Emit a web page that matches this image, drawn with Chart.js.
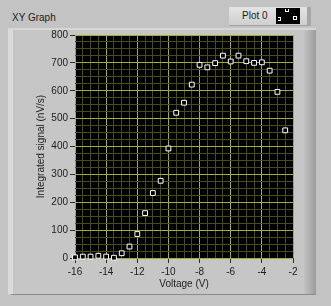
<!DOCTYPE html>
<html>
<head>
<meta charset="utf-8">
<script src="https://cdn.jsdelivr.net/npm/chart.js@4"></script>
<style>
  html, body { margin: 0; padding: 0; background: #c3c3c3; }
  #wrap { position: relative; width: 331px; height: 306px; overflow: hidden; font-family: "Liberation Sans", Arial, sans-serif; color: #1c1c1c; }
  #panel { position: absolute; left: 8px; top: 28px; width: 308px; height: 267px; background: #c6c6c6;
           border-top: 2px solid #d6d6d6; border-left: 5px solid #dadada; border-bottom: 1px solid #8c8c8c; box-sizing: border-box; }
  #shade { position: absolute; right: 0; top: 0; bottom: 0; width: 12px; background: linear-gradient(to right, #c2c2c2, #9c9c9c); }
  #name { position: absolute; left: 12px; top: 12px; font-size: 10px; }
  #legend { position: absolute; left: 229px; top: 7px; width: 82px; height: 19px; box-sizing: border-box;
            background: linear-gradient(to bottom, #e4e4e4, #cfcfcf); border-right: 4px solid #a6a6a6; border-bottom: 1px solid #a0a0a0; }
  #legend span { position: absolute; left: 13px; top: 3px; font-size: 10px; }
  #swatch { position: absolute; left: 47px; top: 1px; width: 24px; height: 16px; background: #000; }
  #swatch i { position: absolute; border: 1px solid #fff; box-sizing: border-box; }
  canvas { position: absolute; left: 0; top: 0; }
</style>
</head>
<body>
<div id="wrap">
  <div id="panel"><div id="shade"></div></div>
  <div id="name">XY Graph</div>
  <div id="legend"><span>Plot 0</span>
    <div id="swatch"><i style="left:9px;top:1px;width:4px;height:3px;border-top:none"></i><i style="left:2px;top:9px;width:3px;height:4px;border-left:none"></i><i style="left:17px;top:8px;width:4px;height:4px"></i></div>
  </div>
  <canvas id="chart" width="331" height="306"></canvas>
</div>
<script>
// values
const voltage = [-16, -15.5, -15, -14.5, -14, -13.5, -13, -12.5, -12, -11.5, -11, -10.5, -10, -9.5,
                 -9, -8.5, -8, -7.5, -7, -6.5, -6, -5.5, -5, -4.5, -4, -3.5, -3, -2.5];
const signal = [2.5, 5, 5, 8, 5, 1, 17, 41, 86, 161, 233, 277, 393, 521,
                557, 622, 693, 684, 699, 726, 705, 726, 706, 700, 702, 672, 596, 458];
const xTickLabels = [-16, -14, -12, -10, -8, -6, -4, -2];
const yTickLabels = [0, 100, 200, 300, 400, 500, 600, 700, 800];

const majorGrid = "rgb(165,172,58)";
const minorGrid = "rgb(74,76,24)";
const font = { family: "'Liberation Sans', Arial, sans-serif", size: 10 };

// black plot area
const plotBackground = {
  id: "plotBackground",
  beforeDraw(chart) {
    const { ctx, chartArea } = chart;
    ctx.save();
    ctx.fillStyle = "#000";
    ctx.fillRect(chartArea.left, chartArea.top, chartArea.right - chartArea.left, chartArea.bottom - chartArea.top);
    ctx.restore();
  },
};

function gridOptions(labels) {
  return {
    color: (c) => (c.tick && labels.includes(c.tick.value) ? majorGrid : minorGrid),
    tickColor: (c) => (c.tick && labels.includes(c.tick.value) ? "#2a2a2a" : "rgba(0,0,0,0)"),
    tickLength: 5,
    lineWidth: 1,
  };
}

new Chart(document.getElementById("chart"), {
  type: "scatter",
  data: {
    datasets: [
      {
        label: "Plot 0",
        data: voltage.map((v, i) => ({ x: v, y: signal[i] })),
        pointStyle: "rect",
        pointRadius: 3.4,
        backgroundColor: "#000",
        borderColor: "#fff",
        borderWidth: 1,
        showLine: false,
        clip: false,
      },
    ],
  },
  options: {
    responsive: false,
    animation: false,
    devicePixelRatio: 1,
    layout: { padding: { left: 31, top: 35, right: 38, bottom: 12 } },
    plugins: { legend: { display: false }, tooltip: { enabled: false } },
    scales: {
      x: {
        type: "linear",
        min: -16,
        max: -2,
        grid: gridOptions(xTickLabels),
        border: { display: false },
        ticks: {
          stepSize: 0.5,
          autoSkip: false,
          maxRotation: 0,
          padding: 3,
          color: "#1c1c1c",
          font: font,
          callback: (v) => (xTickLabels.includes(v) ? String(v) : ""),
        },
        title: { display: true, text: "Voltage (V)", color: "#1c1c1c", font: font, padding: { top: 4, bottom: 4 } },
        afterFit: (s) => { s.height = 36; },
      },
      y: {
        type: "linear",
        min: 0,
        max: 800,
        grid: gridOptions(yTickLabels),
        border: { display: false },
        ticks: {
          stepSize: 25,
          autoSkip: false,
          padding: 2,
          color: "#1c1c1c",
          font: font,
          callback: (v) => (yTickLabels.includes(v) ? String(v) : ""),
        },
        title: { display: true, text: "Integrated signal (nV/s)", color: "#1c1c1c", font: font, padding: { top: 4, bottom: 4 } },
        afterFit: (s) => { s.width = 44; },
      },
    },
  },
  plugins: [plotBackground],
});
</script>
</body>
</html>
